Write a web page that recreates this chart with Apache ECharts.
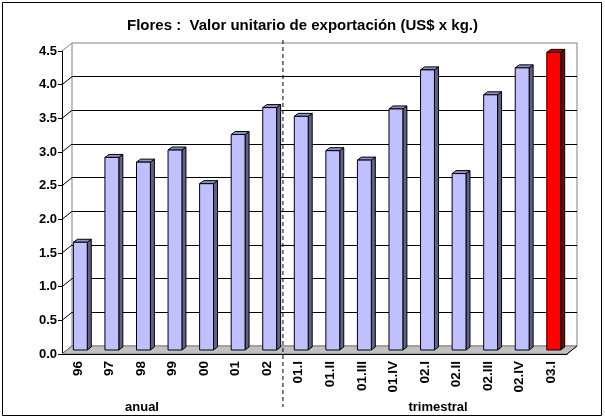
<!DOCTYPE html>
<html>
<head>
<meta charset="utf-8">
<script src="https://cdn.jsdelivr.net/npm/echarts@6/dist/echarts.min.js"></script>
<style>
html, body { margin: 0; padding: 0; background: #fff; }
#chart { width: 605px; height: 418px; }
</style>
</head>
<body>
<div id="chart"></div>
<script>
// datos
const categories = ['96', '97', '98', '99', '00', '01', '02', '01.I', '01.II', '01.III', '01.IV', '02.I', '02.II', '02.III', '02.IV', '03.I']
const values = [1.60, 2.86, 2.79, 2.97, 2.47, 3.20, 3.60, 3.47, 2.96, 2.82, 3.58, 4.16, 2.62, 3.79, 4.19, 4.42]
const yTicks = [0, 0.5, 1, 1.5, 2, 2.5, 3, 3.5, 4, 4.5]
const lastAnnual = '02' // separa anual / trimestral
const highlight = '03.I'

const FONT = 'Liberation Sans, Arial, sans-serif'
const DX = 10, DY = -8 // profundidad de la pared
const blue = {front: '#C0C0FF', side: '#606090', top: '#9090C8'}
const red = {front: '#FF0000', side: '#800000', top: '#C00000'}

const myChart = echarts.init(document.getElementById('chart'))

// pared izquierda: diagonales desde el eje frontal
const renderWall = (params, api) => {
  const p = api.coord([0, api.value(1)])
  const band = api.size([1, 0])[0]
  const x = p[0] - band / 2
  const isTop = api.value(1) === yTicks[yTicks.length - 1]
  return {
    type: 'line',
    shape: {x1: x, y1: p[1], x2: x + DX, y2: p[1] + DY},
    style: {stroke: isTop ? '#808080' : '#000', lineWidth: 1}
  }
}

// piso gris
const renderFloor = (params, api) => {
  const band = api.size([1, 0])[0]
  const a = api.coord([0, 0]), b = api.coord([categories.length - 1, 0])
  const x0 = a[0] - band / 2, x1 = b[0] + band / 2, y = a[1]
  return {
    type: 'group',
    children: [
      {type: 'polygon', shape: {points: [[x0, y], [x1, y], [x1 + DX, y + DY], [x0 + DX, y + DY]]},
        style: {fill: '#C0C0C0', stroke: '#808080', lineWidth: 1}},
      {type: 'line', shape: {x1: x1, y1: y, x2: x1 + DX, y2: y + DY}, style: {stroke: '#000', lineWidth: 1}}
    ]
  }
}

// columnas 3D
const renderBar = (params, api) => {
  const i = api.value(0), v = api.value(1)
  const base = api.coord([i, 0]), top = api.coord([i, v])
  const band = api.size([1, 0])[0]
  const w = band * 0.44
  const x0 = base[0] - band * 0.14, x1 = x0 + w
  const yb = base[1] - 4, yt = top[1] - 4
  const dx = 4, dy = -3
  const c = categories[i] === highlight ? red : blue
  return {
    type: 'group',
    children: [
      {type: 'polygon', shape: {points: [[x1, yb], [x1 + dx, yb + dy], [x1 + dx, yt + dy], [x1, yt]]},
        style: {fill: c.side, stroke: '#000', lineWidth: 1}},
      {type: 'polygon', shape: {points: [[x0, yt], [x0 + dx, yt + dy], [x1 + dx, yt + dy], [x1, yt]]},
        style: {fill: c.top, stroke: '#000', lineWidth: 1}},
      {type: 'rect', shape: {x: x0, y: yt, width: w, height: yb - yt},
        style: {fill: c.front, stroke: '#000', lineWidth: 1}}
    ]
  }
}

// línea punteada entre anual y trimestral
const renderSeparator = (params, api) => {
  const band = api.size([1, 0])[0]
  const t = api.coord([api.value(0), yTicks[yTicks.length - 1]])
  const b = api.coord([api.value(0), 0])
  const x = t[0] + band / 2
  return {
    type: 'line',
    shape: {x1: x, y1: t[1] + DY - 3, x2: x, y2: b[1] + 53},
    style: {stroke: '#000', lineWidth: 1, lineDash: [4, 3]}
  }
}

const option = {
  animation: false,
  title: {
    text: 'Flores :  Valor unitario de exportación (US$ x kg.)',
    left: 'center',
    top: 13,
    textStyle: {fontFamily: FONT, fontSize: 15, fontWeight: 'bold', color: '#000'}
  },
  grid: [
    {left: 62, right: 38, top: 51, bottom: 64},
    {left: 72, right: 28, top: 43, bottom: 72, show: true, backgroundColor: '#fff', borderColor: '#808080', borderWidth: 1}
  ],
  xAxis: [
    {
      type: 'category',
      gridIndex: 0,
      data: categories,
      z: 3,
      axisLine: {lineStyle: {color: '#000', width: 1}},
      axisTick: {length: 5, lineStyle: {color: '#000'}},
      axisLabel: {
        rotate: 90,
        interval: 0,
        margin: 7,
        color: '#000',
        fontFamily: FONT,
        fontSize: 13.5,
        fontWeight: 'bold'
      }
    },
    {type: 'category', gridIndex: 1, data: categories, show: false}
  ],
  yAxis: [
    {
      type: 'value',
      gridIndex: 0,
      min: 0,
      max: 4.5,
      interval: 0.5,
      axisLine: {show: true, lineStyle: {color: '#000', width: 1}},
      axisTick: {show: true, length: 4, lineStyle: {color: '#000'}},
      splitLine: {show: false},
      axisLabel: {
        margin: 5,
        color: '#000',
        fontFamily: FONT,
        fontSize: 13,
        fontWeight: 'bold',
        formatter: (v) => v.toFixed(1)
      }
    },
    {
      type: 'value',
      gridIndex: 1,
      min: 0,
      max: 4.5,
      interval: 0.5,
      axisLine: {show: false},
      axisTick: {show: false},
      axisLabel: {show: false},
      splitLine: {show: true, showMinLine: false, showMaxLine: false, lineStyle: {color: '#000', width: 1}}
    }
  ],
  series: [
    {
      name: 'pared',
      type: 'custom',
      xAxisIndex: 0,
      yAxisIndex: 0,
      z: 1,
      clip: false,
      renderItem: renderWall,
      data: yTicks.map(v => [0, v])
    },
    {
      name: 'piso',
      type: 'custom',
      xAxisIndex: 0,
      yAxisIndex: 0,
      z: 1,
      clip: false,
      renderItem: renderFloor,
      data: [[0, 0]]
    },
    {
      name: 'Valor unitario',
      type: 'custom',
      xAxisIndex: 0,
      yAxisIndex: 0,
      z: 2,
      clip: false,
      renderItem: renderBar,
      data: values.map((v, i) => [i, v])
    },
    {
      name: 'separador',
      type: 'custom',
      xAxisIndex: 0,
      yAxisIndex: 0,
      z: 4,
      clip: false,
      renderItem: renderSeparator,
      data: [[categories.indexOf(lastAnnual), 0]]
    }
  ],
  graphic: [
    {type: 'rect', shape: {x: 2.5, y: 2.5, width: 599, height: 413}, style: {fill: null, stroke: '#000', lineWidth: 1}, z: 10},
    {type: 'text', x: 142, y: 407, style: {text: 'anual', fill: '#000', font: 'bold 13px ' + FONT, align: 'center', verticalAlign: 'middle'}},
    {type: 'text', x: 438, y: 407, style: {text: 'trimestral', fill: '#000', font: 'bold 13px ' + FONT, align: 'center', verticalAlign: 'middle'}}
  ]
}

option && myChart.setOption(option)
</script>
</body>
</html>
